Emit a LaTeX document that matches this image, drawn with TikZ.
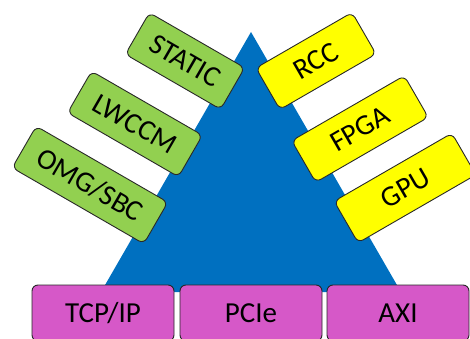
\documentclass[tikz,border=0pt]{standalone}
\usepackage{fontspec}
\setmainfont{Carlito}
\definecolor{tri}{RGB}{0,112,192}
\definecolor{grn}{RGB}{146,208,80}
\definecolor{ylw}{RGB}{255,255,0}
\definecolor{pnk}{RGB}{214,88,200}
\definecolor{edge}{RGB}{40,40,40}
\tikzset{
  tile/.style={draw=edge, line width=0.9pt, rounded corners=6pt, inner sep=0pt,
    minimum height=48pt, font=\fontsize{29}{32}\selectfont, text=black},
  greentile/.style={tile, fill=grn, rotate=-30},
  yellowtile/.style={tile, fill=ylw, rotate=30},
  basetile/.style={tile, fill=pnk, minimum width=142pt, minimum height=56pt}
}
\begin{document}
\begin{tikzpicture}[x=1pt,y=-1pt]
  \useasboundingbox (0,0) rectangle (470,339);
  \clip (0,0) rectangle (470,339);
  % central pyramid
  \fill[tri] (251,32) -- (401,292) -- (101,292) -- cycle;
  % software tiles on the left flank
  \node[greentile, minimum width=110pt] (static) at (185,61) {STATIC};
  \node[greentile, minimum width=128pt] (lwccm) at (135,124) {LWCCM};
  \node[greentile, minimum width=152pt] (omg) at (90,185) {OMG/SBC};
  % hardware tiles on the right flank
  \node[yellowtile, minimum width=111pt] (rcc) at (316,61) {RCC};
  \node[yellowtile, minimum width=130pt] (fpga) at (360,129) {FPGA};
  \node[yellowtile, minimum width=136pt] (gpu) at (405,188) {GPU};
  % transport tiles along the base
  \node[basetile] (tcp) at (103,313) {TCP/IP};
  \node[basetile] (pcie) at (251,313) {PCIe};
  \node[basetile] (axi) at (398,313) {AXI};
\end{tikzpicture}
\end{document}
